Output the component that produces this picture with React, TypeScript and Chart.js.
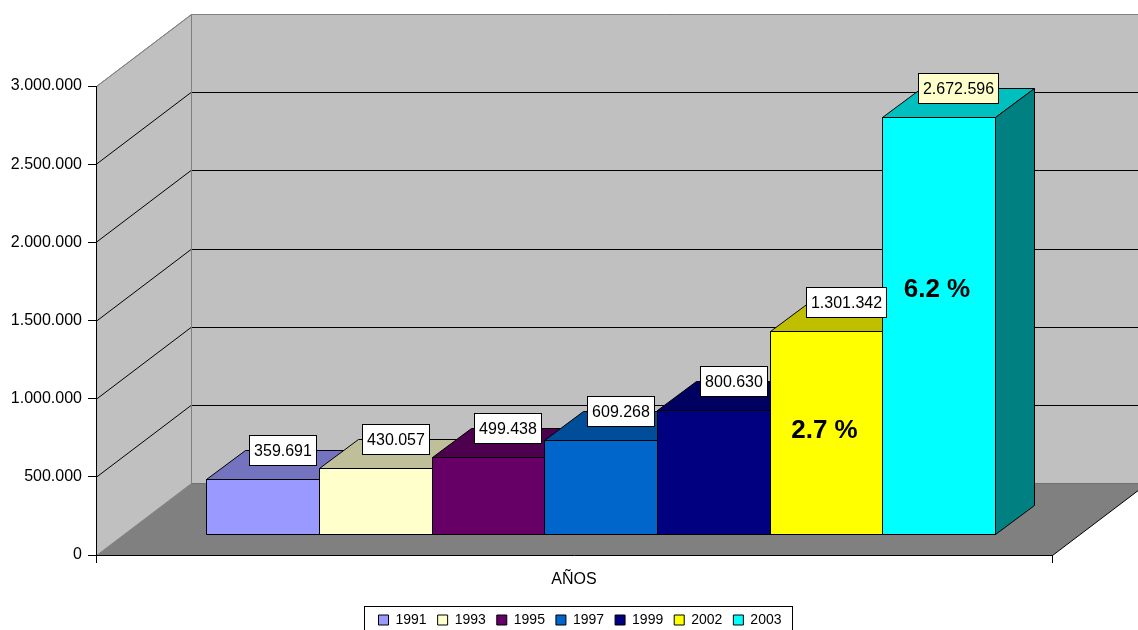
import React, { useEffect, useRef } from 'react';
import { Chart, registerables } from 'chart.js';

Chart.register(...registerables);

const categories = ['AÑOS'];
const years = ['1991', '1993', '1995', '1997', '1999', '2002', '2003'];
const values = [359691, 430057, 499438, 609268, 800630, 1301342, 2672596];
const colors = ['#9999FF', '#FFFFCC', '#660066', '#0066CC', '#000080', '#FFFF00', '#00FFFF'];
const labelFills = ['#FFFFFF', '#FFFFFF', '#FFFFFF', '#FFFFFF', '#FFFFFF', '#FFFFFF', '#FFFFCC'];
const pctTexts = ['', '', '', '', '', '2.7 %', '6.2 %'];
const pctValues = [0, 0, 0, 0, 0, 665000, 1570000];
const yMin = 0;
const yMax = 3000000;
const yStep = 500000;

const FONT = '"Liberation Sans", Arial, sans-serif';
const DX = 95;
const DY = 72;
const F1 = 0.28;
const F2 = 0.69;

function fmt(v: number): string {
  return String(Math.round(v)).replace(/\B(?=(\d{3})+(?!\d))/g, '.');
}

function shade(hex: string, f: number): string {
  const n = parseInt(hex.slice(1), 16);
  const r = Math.round(((n >> 16) & 255) * f);
  const g = Math.round(((n >> 8) & 255) * f);
  const b = Math.round((n & 255) * f);
  return `rgb(${r},${g},${b})`;
}

function poly(ctx: CanvasRenderingContext2D, pts: number[][], fill: string | null, stroke: string | null) {
  ctx.beginPath();
  ctx.moveTo(pts[0][0], pts[0][1]);
  for (let i = 1; i < pts.length; i++) ctx.lineTo(pts[i][0], pts[i][1]);
  ctx.closePath();
  if (fill) {
    ctx.fillStyle = fill;
    ctx.fill();
  }
  if (stroke) {
    ctx.strokeStyle = stroke;
    ctx.lineWidth = 1;
    ctx.stroke();
  }
}

const px = (v: number) => Math.round(v) + 0.5;

const threeD = {
  id: 'threeD',
  afterLayout(chart: any) {
    const lg = chart.legend;
    if (lg) {
      lg.left += 11;
      lg.right += 11;
    }
  },
  beforeDraw(chart: any) {
    const { ctx, chartArea } = chart;
    const { left, right, top, bottom } = chartArea;
    const y = chart.scales.y;
    ctx.save();
    // back wall
    poly(ctx, [
      [px(left + DX), px(top - DY)],
      [px(right + DX), px(top - DY)],
      [px(right + DX), px(bottom - DY)],
      [px(left + DX), px(bottom - DY)],
    ], '#C0C0C0', null);
    // left wall
    poly(ctx, [
      [px(left), px(top)],
      [px(left + DX), px(top - DY)],
      [px(left + DX), px(bottom - DY)],
      [px(left), px(bottom)],
    ], '#C0C0C0', '#808080');
    // floor
    poly(ctx, [
      [px(left), px(bottom)],
      [px(right), px(bottom)],
      [px(right + DX), px(bottom - DY)],
      [px(left + DX), px(bottom - DY)],
    ], '#808080', null);
    ctx.strokeStyle = '#000';
    ctx.lineWidth = 1;
    ctx.beginPath();
    ctx.moveTo(px(right), px(bottom));
    ctx.lineTo(px(right + DX), px(bottom - DY));
    ctx.stroke();
    ctx.strokeStyle = '#707070';
    ctx.beginPath();
    ctx.moveTo(px(left + DX), px(bottom - DY));
    ctx.lineTo(px(right + DX), px(bottom - DY));
    ctx.stroke();
    // gridlines
    ctx.strokeStyle = '#000';
    y.ticks.forEach((t: any) => {
      if (t.value <= yMin || t.value >= yMax) return;
      const py = y.getPixelForValue(t.value);
      ctx.beginPath();
      ctx.moveTo(left, px(py));
      ctx.lineTo(left + DX, px(py - DY));
      ctx.lineTo(right + DX + 20, px(py - DY));
      ctx.stroke();
    });
    // wall borders
    ctx.strokeStyle = '#808080';
    ctx.beginPath();
    ctx.moveTo(px(left), px(top));
    ctx.lineTo(px(left + DX), px(top - DY));
    ctx.lineTo(right + DX + 20, px(top - DY));
    ctx.moveTo(px(left + DX), px(top - DY));
    ctx.lineTo(px(left + DX), px(bottom - DY));
    ctx.stroke();
    ctx.restore();
  },
  beforeDatasetsDraw(chart: any) {
    const { ctx } = chart;
    const y = chart.scales.y;
    const fdx = F1 * DX;
    const fdy = F1 * DY;
    const ddx = (F2 - F1) * DX;
    const ddy = (F2 - F1) * DY;
    ctx.save();
    const boxes: any[] = [];
    chart.data.datasets.forEach((ds: any, i: number) => {
      const meta = chart.getDatasetMeta(i);
      const el = meta.data[0];
      if (!el) return;
      const w = el.width;
      const x0 = px(el.x - w / 2 + fdx);
      const x1 = px(el.x + w / 2 + fdx);
      const yt = px(el.y - fdy);
      const yb = px(el.base - fdy);
      const col = colors[i];
      // front
      poly(ctx, [[x0, yt], [x1, yt], [x1, yb], [x0, yb]], col, '#000');
      // top
      poly(ctx, [[x0, yt], [x1, yt], [px(x1 + ddx), px(yt - ddy)], [px(x0 + ddx), px(yt - ddy)]], shade(col, 0.75), '#000');
      // side
      poly(ctx, [[x1, yt], [px(x1 + ddx), px(yt - ddy)], [px(x1 + ddx), px(yb - ddy)], [x1, yb]], shade(col, 0.5), '#000');
      boxes.push({ i, cx: (x0 + x1) / 2, yt, yb, el });
    });
    // percentage texts
    ctx.font = `bold 26px ${FONT}`;
    ctx.fillStyle = '#000';
    ctx.textAlign = 'center';
    ctx.textBaseline = 'middle';
    boxes.forEach((b) => {
      const t = pctTexts[b.i];
      if (!t) return;
      const py = y.getPixelForValue(pctValues[b.i]) - fdy;
      ctx.fillText(t, b.cx - 2, py);
    });
    // value labels
    ctx.font = `16px ${FONT}`;
    boxes.forEach((b) => {
      const text = fmt(values[b.i]);
      const tw = ctx.measureText(text).width;
      const bw = Math.round(tw + 9);
      const bh = 30;
      const cx = b.cx + ddx / 2;
      const by = b.yt - ddy / 2;
      const rx = Math.round(cx - bw / 2) + 0.5;
      const ry = Math.round(by - bh) + 0.5;
      ctx.fillStyle = labelFills[b.i];
      ctx.fillRect(rx, ry, bw, bh);
      ctx.strokeStyle = '#000';
      ctx.lineWidth = 1;
      ctx.strokeRect(rx, ry, bw, bh);
      ctx.fillStyle = '#000';
      ctx.textAlign = 'center';
      ctx.textBaseline = 'middle';
      ctx.fillText(text, rx + bw / 2, ry + bh / 2 + 1);
    });
    ctx.restore();
    return false;
  },
  afterDraw(chart: any) {
    const lg = chart.legend;
    if (!lg || !lg.legendHitBoxes || !lg.legendHitBoxes.length) return;
    const hb = lg.legendHitBoxes;
    const first = hb[0];
    const last = hb[hb.length - 1];
    const x0 = Math.round(first.left - 14) + 0.5;
    const x1 = Math.round(last.left + last.width + 10) + 0.5;
    const y0 = Math.round(first.top - 7) + 0.5;
    const { ctx } = chart;
    ctx.save();
    ctx.strokeStyle = '#000';
    ctx.lineWidth = 1;
    ctx.strokeRect(x0, y0, x1 - x0, chart.height - y0 + 20);
    ctx.restore();
  },
};

export default function App() {
  const ref = useRef<HTMLCanvasElement | null>(null);
  useEffect(() => {
    if (!ref.current) return;
    Chart.defaults.font.family = FONT;
    Chart.defaults.color = '#000';
    const chart = new Chart(ref.current, {
      type: 'bar',
      data: {
        labels: categories,
        datasets: years.map((yr, i) => ({
          label: yr,
          data: [values[i]],
          backgroundColor: colors[i],
          borderColor: '#000',
          borderWidth: 1,
          categoryPercentage: 0.825,
          barPercentage: 1,
          yAxisID: 'y',
        })),
      },
      options: {
        responsive: false,
        animation: false,
        events: [],
        layout: { padding: { left: 0, top: 86, right: 0, bottom: 0 } },
        plugins: {
          tooltip: { enabled: false },
          legend: {
            position: 'bottom',
            maxHeight: 28,
            labels: {
              boxWidth: 10,
              boxHeight: 10,
              padding: 11,
              color: '#000',
              font: { size: 14, family: FONT },
            },
          },
        },
        scales: {
          x: {
            grid: { drawOnChartArea: false, color: '#000', tickLength: 8, offset: true },
            border: { color: '#000' },
            ticks: { font: { size: 16, family: FONT }, color: '#000', padding: 7 },
            afterFit: (s: any) => { s.height = 47; },
          },
          y: {
            min: yMin,
            max: yMax,
            position: 'left',
            grid: { drawOnChartArea: false, color: '#000', tickLength: 8 },
            border: { color: '#000' },
            ticks: {
              stepSize: yStep,
              font: { size: 16, family: FONT },
              color: '#000',
              padding: 6,
              callback: (v: any) => fmt(Number(v)),
            },
            afterFit: (s: any) => { s.width = 96; },
          },
          yRight: {
            type: 'linear',
            position: 'right',
            min: 0,
            max: 1,
            grid: { display: false },
            border: { display: false },
            ticks: { display: false },
            afterFit: (s: any) => { s.width = 86; },
          },
        },
      } as any,
      plugins: [threeD],
    });
    return () => chart.destroy();
  }, []);
  return (
    <canvas
      ref={ref}
      width={1138}
      height={630}
      style={{ position: 'absolute', left: 0, top: 0, width: 1138, height: 630 }}
    />
  );
}
